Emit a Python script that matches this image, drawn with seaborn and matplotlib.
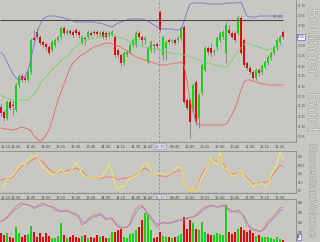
import matplotlib
matplotlib.use("Agg")
import matplotlib.pyplot as plt
import matplotlib.patheffects as pe
from matplotlib import font_manager
from matplotlib.ticker import MultipleLocator, FixedLocator
import numpy as np
import pandas as pd
import seaborn as sns

# ---------------- data ----------------
opens = [37.195, 37.170, 37.140, 37.220, 37.205, 37.180, 37.305, 37.350, 37.340, 37.330,
         37.370, 37.540, 37.570, 37.545, 37.520, 37.510, 37.495, 37.480, 37.505, 37.530,
         37.545, 37.590, 37.565, 37.575, 37.570, 37.580, 37.570, 37.515, 37.540, 37.545,
         37.565, 37.570, 37.570, 37.560, 37.570, 37.565, 37.555, 37.560, 37.545, 37.480,
         37.455, 37.415, 37.455, 37.470, 37.505, 37.505, 37.565, 37.545, 37.530, 37.420,
         37.480, 37.505, 37.510, 37.670, 37.455, 37.490, 37.530, 37.525, 37.530, 37.530,
         37.540, 37.595, 37.230, 37.230, 37.180, 37.320, 37.140, 37.265, 37.380, 37.490,
         37.490, 37.470, 37.495, 37.530, 37.545, 37.465, 37.580, 37.565, 37.565, 37.565,
         37.640, 37.530, 37.415, 37.390, 37.370, 37.340, 37.380, 37.370, 37.395, 37.415,
         37.440, 37.465, 37.490, 37.520, 37.570]
closes = [37.165, 37.140, 37.220, 37.190, 37.200, 37.305, 37.350, 37.330, 37.330, 37.370,
          37.530, 37.530, 37.545, 37.515, 37.505, 37.495, 37.465, 37.520, 37.530, 37.545,
          37.590, 37.565, 37.575, 37.565, 37.555, 37.565, 37.555, 37.545, 37.535, 37.570,
          37.555, 37.565, 37.560, 37.565, 37.545, 37.545, 37.565, 37.570, 37.455, 37.455,
          37.415, 37.465, 37.470, 37.505, 37.530, 37.565, 37.545, 37.530, 37.540, 37.490,
          37.520, 37.500, 37.500, 37.580, 37.545, 37.520, 37.520, 37.525, 37.515, 37.540,
          37.590, 37.220, 37.190, 37.120, 37.305, 37.120, 37.255, 37.405, 37.490, 37.470,
          37.465, 37.475, 37.540, 37.565, 37.570, 37.605, 37.565, 37.545, 37.530, 37.640,
          37.465, 37.405, 37.390, 37.370, 37.340, 37.380, 37.365, 37.400, 37.420, 37.445,
          37.465, 37.495, 37.530, 37.545, 37.545]
highs = [37.210, 37.180, 37.230, 37.235, 37.230, 37.315, 37.360, 37.365, 37.355, 37.380,
         37.540, 37.580, 37.590, 37.555, 37.530, 37.520, 37.505, 37.530, 37.540, 37.555,
         37.600, 37.600, 37.585, 37.585, 37.580, 37.590, 37.580, 37.555, 37.550, 37.580,
         37.575, 37.580, 37.580, 37.575, 37.580, 37.575, 37.575, 37.580, 37.555, 37.490,
         37.465, 37.475, 37.480, 37.515, 37.540, 37.575, 37.575, 37.555, 37.550, 37.500,
         37.530, 37.515, 37.520, 37.680, 37.550, 37.530, 37.540, 37.535, 37.540, 37.550,
         37.600, 37.605, 37.240, 37.240, 37.315, 37.330, 37.265, 37.415, 37.500, 37.500,
         37.515, 37.485, 37.550, 37.575, 37.580, 37.620, 37.605, 37.575, 37.575, 37.655,
         37.655, 37.540, 37.425, 37.400, 37.380, 37.390, 37.390, 37.410, 37.430, 37.455,
         37.475, 37.505, 37.540, 37.555, 37.580]
lows = [37.150, 37.125, 37.130, 37.180, 37.155, 37.170, 37.290, 37.320, 37.320, 37.320,
        37.360, 37.515, 37.535, 37.505, 37.495, 37.480, 37.455, 37.470, 37.495, 37.520,
        37.535, 37.555, 37.555, 37.555, 37.545, 37.555, 37.540, 37.505, 37.505, 37.535,
        37.545, 37.555, 37.550, 37.550, 37.535, 37.535, 37.545, 37.550, 37.445, 37.440,
        37.400, 37.405, 37.445, 37.460, 37.495, 37.495, 37.535, 37.505, 37.510, 37.410,
        37.470, 37.465, 37.490, 37.570, 37.430, 37.430, 37.510, 37.515, 37.505, 37.520,
        37.530, 37.210, 37.180, 37.040, 37.170, 37.105, 37.090, 37.255, 37.370, 37.455,
        37.445, 37.455, 37.480, 37.520, 37.535, 37.415, 37.555, 37.535, 37.520, 37.555,
        37.455, 37.395, 37.380, 37.360, 37.330, 37.330, 37.350, 37.360, 37.385, 37.405,
        37.430, 37.455, 37.480, 37.510, 37.535]

bb_upper = [37.470, 37.450, 37.420, 37.390, 37.360, 37.340, 37.330, 37.335, 37.350, 37.380,
            37.440, 37.505, 37.565, 37.605, 37.635, 37.645, 37.650, 37.650, 37.650, 37.645,
            37.645, 37.640, 37.635, 37.630, 37.625, 37.620, 37.620, 37.620, 37.620, 37.620,
            37.620, 37.620, 37.615, 37.615, 37.610, 37.605, 37.600, 37.595, 37.605, 37.615,
            37.620, 37.625, 37.630, 37.635, 37.635, 37.635, 37.635, 37.635, 37.630, 37.625,
            37.615, 37.605, 37.595, 37.590, 37.585, 37.585, 37.585, 37.585, 37.580, 37.580,
            37.585, 37.620, 37.670, 37.710, 37.715, 37.715, 37.715, 37.715, 37.715, 37.710,
            37.710, 37.710, 37.710, 37.710, 37.710, 37.715, 37.715, 37.715, 37.715, 37.715,
            37.720, 37.685, 37.650, 37.645, 37.645, 37.645, 37.650, 37.650, 37.650, 37.650,
            37.650, 37.650, 37.650, 37.650, 37.650]
bb_mid = [37.255, 37.245, 37.240, 37.235, 37.230, 37.230, 37.230, 37.230, 37.230, 37.230,
          37.245, 37.260, 37.280, 37.310, 37.330, 37.345, 37.365, 37.380, 37.395, 37.410,
          37.425, 37.440, 37.445, 37.465, 37.485, 37.500, 37.510, 37.520, 37.525, 37.530,
          37.535, 37.540, 37.540, 37.545, 37.550, 37.555, 37.555, 37.555, 37.550, 37.545,
          37.540, 37.535, 37.530, 37.520, 37.515, 37.510, 37.505, 37.500, 37.495, 37.490,
          37.490, 37.485, 37.485, 37.480, 37.475, 37.470, 37.465, 37.465, 37.460, 37.460,
          37.455, 37.455, 37.450, 37.445, 37.440, 37.435, 37.430, 37.425, 37.420, 37.415,
          37.410, 37.405, 37.400, 37.400, 37.395, 37.395, 37.410, 37.430, 37.450, 37.470,
          37.490, 37.510, 37.515, 37.510, 37.505, 37.500, 37.495, 37.490, 37.485, 37.480,
          37.485, 37.490, 37.495, 37.500, 37.505]
bb_lower = [37.090, 37.085, 37.085, 37.080, 37.080, 37.085, 37.090, 37.095, 37.090, 37.085,
            37.075, 37.050, 37.035, 37.025, 37.035, 37.055, 37.080, 37.125, 37.180, 37.230,
            37.270, 37.310, 37.350, 37.390, 37.415, 37.430, 37.445, 37.455, 37.465, 37.475,
            37.485, 37.495, 37.500, 37.505, 37.510, 37.515, 37.515, 37.510, 37.505, 37.500,
            37.495, 37.485, 37.475, 37.465, 37.455, 37.445, 37.440, 37.435, 37.430, 37.425,
            37.420, 37.415, 37.410, 37.405, 37.405, 37.405, 37.410, 37.410, 37.415, 37.415,
            37.420, 37.405, 37.330, 37.230, 37.170, 37.120, 37.105, 37.105, 37.105, 37.105,
            37.105, 37.105, 37.105, 37.105, 37.105, 37.110, 37.130, 37.160, 37.190, 37.230,
            37.280, 37.320, 37.330, 37.330, 37.325, 37.320, 37.315, 37.310, 37.310, 37.305,
            37.305, 37.305, 37.305, 37.305, 37.305]

mom_fast = [99.29, 99.29, 99.76, 99.82, 99.94, 100.18, 100.41, 100.65, 100.53, 100.88,
            101.06, 101.00, 101.12, 100.71, 100.41, 100.24, 100.12, 99.94, 100.00, 100.12,
            100.29, 100.12, 100.06, 100.12, 100.35, 100.71, 100.47, 100.00, 99.88, 99.82,
            99.82, 99.82, 99.82, 99.82, 99.94, 100.24, 100.59, 100.12, 99.41, 99.06,
            99.29, 99.24, 99.53, 99.76, 99.82, 99.88, 100.06, 100.41, 100.65, 100.59,
            100.12, 100.00, 99.94, 100.06, 100.00, 99.94, 100.00, 100.12, 100.29, 100.41,
            100.35, 99.59, 99.18, 98.94, 99.18, 98.94, 99.41, 99.82, 100.12, 100.47,
            100.94, 100.76, 100.53, 101.29, 100.41, 100.29, 100.12, 99.88, 99.88, 100.06,
            100.18, 99.88, 99.65, 99.53, 99.24, 99.41, 99.41, 99.47, 99.29, 99.29,
            99.94, 100.29, 100.53, 101.29, 100.94]
mom_slow = [99.65, 99.71, 99.76, 99.76, 99.82, 100.06, 100.29, 100.47, 100.59, 100.65,
            100.76, 100.88, 101.00, 100.82, 100.71, 100.47, 100.29, 100.12, 100.06, 100.06,
            100.12, 100.12, 100.18, 100.24, 100.29, 100.35, 100.29, 100.18, 100.00, 99.82,
            99.82, 99.82, 99.82, 99.76, 99.76, 99.82, 99.82, 99.82, 99.76, 99.65,
            99.71, 99.76, 99.76, 99.82, 99.82, 99.94, 100.06, 100.24, 100.35, 100.24,
            100.12, 100.00, 99.94, 99.88, 99.88, 99.82, 99.94, 100.06, 100.12, 100.18,
            100.24, 99.65, 99.18, 98.88, 99.18, 99.00, 99.53, 100.00, 100.24, 100.47,
            100.94, 100.82, 100.71, 101.12, 100.59, 100.24, 100.06, 100.00, 100.00, 100.06,
            100.12, 99.94, 99.76, 99.59, 99.41, 99.41, 99.47, 99.47, 99.53, 99.53,
            99.76, 100.06, 100.29, 100.53, 100.41]

volume_k = [9, 7, 9, 5, 4, 15, 9, 5, 7, 8,
            16, 10, 5, 9, 5, 9, 6, 4, 4, 6,
            19, 7, 4, 5, 7, 5, 4, 6, 7, 4,
            5, 4, 7, 5, 6, 4, 4, 10, 10, 12,
            13, 5, 4, 8, 9, 12, 15, 22, 29, 27,
            12, 4, 5, 10, 6, 5, 5, 4, 5, 6,
            8, 25, 13, 22, 19, 13, 12, 20, 10, 8,
            7, 7, 9, 8, 7, 37, 10, 8, 10, 13,
            15, 12, 10, 12, 9, 6, 7, 5, 5, 5,
            4, 3, 5, 3, 2]
vol_line_red = [20, 22, 25, 29, 32, 36, 38, 39, 38, 37,
                36, 33, 36, 38, 39, 37, 36, 35, 32, 31,
                30, 31, 32, 30, 28, 27, 24, 17, 19, 23,
                25, 27, 27, 29, 25, 22, 24, 24, 18, 15,
                14, 14, 15, 19, 27, 33, 36, 37, 32, 26,
                23, 19, 15, 18, 20, 19, 19, 20, 21, 22,
                22, 23, 24, 25, 25, 27, 30, 33, 35, 36,
                37, 36, 35, 36, 37, 35, 31, 30, 31, 32,
                30, 24, 17, 14, 12, 12, 10, 12, 15, 21,
                23, 26, 30, 34, 35]
vol_line_blue = [21, 22, 24, 27, 30, 33, 35, 37, 38, 37,
                 36, 35, 35, 36, 37, 37, 36, 35, 34, 32,
                 31, 31, 31, 30, 29, 28, 26, 21, 19, 21,
                 23, 25, 26, 27, 26, 24, 23, 23, 20, 17,
                 15, 14, 15, 17, 23, 29, 33, 35, 33, 29,
                 25, 21, 18, 18, 19, 19, 19, 19, 20, 21,
                 22, 22, 23, 24, 25, 26, 28, 31, 33, 35,
                 36, 36, 35, 35, 36, 35, 33, 31, 30, 30,
                 29, 26, 20, 15, 13, 12, 11, 11, 13, 18,
                 21, 24, 27, 31, 33]

time_ticks = [0, 5, 10, 15, 20, 25, 30, 35, 40, 45, 49,
              53, 58, 63, 68, 73, 78, 83, 88, 93]
time_labels = ["12:15", "12:30", "12:45", "13:00", "13:15", "13:30", "13:45", "14:00",
               "14:15", "14:30", "14:42",
               "09:30", "09:45", "10:00", "10:15", "10:30", "10:45", "11:00", "11:15", "11:30"]
price_ticks = [37.05, 37.10, 37.15, 37.20, 37.25, 37.30, 37.35, 37.40, 37.45, 37.50,
               37.55, 37.60, 37.65, 37.70]
mom_ticks = [99.0, 99.5, 100.0, 100.5, 101.0]
mom_labels = ["99", "99.5", "100", "100.5", "101"]
vol_ticks = [10, 20, 30, 40]
resistance_level = 37.63
session_break = 52.5
panel_titles = ["Bollinger", "Band", "Momentum", "Volume"]

# ---------------- style ----------------
BG = "#c9c7c1"
UP = "#14d214"
DOWN = "#dc0a0a"
WICK = "#707070"
SPINE = "#8a8884"
TXT = "#4a4a4a"

sns.set_theme(style="white")
plt.rcParams["font.family"] = ["DejaVu Sans"]

try:
    font_manager.findfont("Liberation Sans Narrow", fallback_to_default=False)
    NARROW = ["Liberation Sans Narrow", "DejaVu Sans"]
except Exception:
    NARROW = ["DejaVu Sans"]

df = pd.DataFrame({
    "idx": np.arange(len(opens)), "open": opens, "close": closes,
    "high": highs, "low": lows, "upper": bb_upper, "mid": bb_mid, "lower": bb_lower,
    "mom_fast": mom_fast, "mom_slow": mom_slow, "vol": volume_k,
    "vred": vol_line_red, "vblue": vol_line_blue,
})
df["up"] = df["close"] >= df["open"]
df["body_lo"] = df[["open", "close"]].min(axis=1)
df["body_h"] = (df["close"] - df["open"]).abs().clip(lower=0.004)
colors = [UP if u else DOWN for u in df["up"]]

W, H = 320, 242
fig = plt.figure(figsize=(W / 100, H / 100), dpi=100)
fig.patch.set_facecolor(BG)
ax_p = fig.add_axes([0, 100 / H, 296 / W, 142 / H])
ax_m = fig.add_axes([0, 49 / H, 296 / W, 42 / H])
ax_v = fig.add_axes([0, 0, 296 / W, 43 / H])

XL = (-0.33, 98.33)
for ax in (ax_p, ax_m, ax_v):
    ax.set_facecolor(BG)
    ax.set_xlim(*XL)
    for s in ax.spines.values():
        s.set_color(SPINE)
        s.set_linewidth(0.6)
    ax.spines["top"].set_visible(False)
    ax.spines["left"].set_visible(False)
    ax.yaxis.tick_right()
    ax.tick_params(axis="y", which="major", labelsize=2.0, colors=SPINE, labelcolor=TXT,
                   length=1.0, width=0.4, pad=0.4, right=True, left=False)
    ax.xaxis.set_major_locator(FixedLocator(time_ticks))
    ax.xaxis.set_minor_locator(MultipleLocator(1))
    ax.tick_params(axis="x", which="major", direction="inout", length=3, width=0.4,
                   colors=SPINE, labelcolor=TXT, labelsize=2.6, pad=0.5)
    ax.tick_params(axis="x", which="minor", direction="inout", length=1.5, width=0.3,
                   colors=SPINE, bottom=True)
    ax.axvline(session_break, color="#8c8ca8", lw=0.6, dashes=(3, 2), zorder=1)

# ---- price panel ----
ax_p.set_ylim(37.02, 37.73)
ax_p.set_yticks(price_ticks)
ax_p.set_yticklabels([f"{v:.2f}" for v in price_ticks])
ax_p.vlines(df["idx"], df["low"], df["high"], color=WICK, lw=0.5, zorder=2)
ax_p.bar(df["idx"], df["body_h"], bottom=df["body_lo"], width=0.72,
         color=colors, linewidth=0, zorder=3)
sns.lineplot(data=df, x="idx", y="upper", ax=ax_p, color="#7474dc", lw=0.6, zorder=4)
sns.lineplot(data=df, x="idx", y="mid", ax=ax_p, color="#6fd36f", lw=0.6, zorder=4)
sns.lineplot(data=df, x="idx", y="lower", ax=ax_p, color="#e06a6a", lw=0.6, zorder=4)
ax_p.hlines(resistance_level, XL[0], df["idx"].iloc[-1], color="#4a4a4a", lw=0.8, zorder=5)
ax_p.text(df["idx"].iloc[-1], resistance_level + 0.004, f"{resistance_level:.2f}",
          fontsize=2.6, color=TXT, ha="right", va="bottom")
ax_p.text(1.004, closes[-1], f"{closes[-1]:.2f}", transform=ax_p.get_yaxis_transform(),
          fontsize=2.0, color="#202060", va="center", ha="left", clip_on=False,
          bbox=dict(boxstyle="square,pad=0.2", fc="#f4f4ff", ec="#4848c8", lw=0.4))
ax_p.set_xticklabels(time_labels)

# ---- momentum panel ----
ax_m.set_ylim(98.88, 101.35)
ax_m.set_yticks(mom_ticks)
ax_m.set_yticklabels(mom_labels)
sns.lineplot(data=df, x="idx", y="mom_slow", ax=ax_m, color="#f07c7c", lw=0.7, zorder=3)
sns.lineplot(data=df, x="idx", y="mom_fast", ax=ax_m, color="#eeee58", lw=0.7, zorder=4)
ax_m.spines["top"].set_visible(True)
ax_m.set_xticklabels(time_labels)

# ---- volume panel ----
ax_v.set_ylim(0, 43)
ax_v.set_yticks(vol_ticks)
ax_v.set_yticklabels([f"{v}K" for v in vol_ticks])
ax_v.bar(df["idx"], df["vol"], width=0.72, color=colors, linewidth=0, zorder=3)
sns.lineplot(data=df, x="idx", y="vblue", ax=ax_v, color="#8a8ae0", lw=0.55, zorder=4)
sns.lineplot(data=df, x="idx", y="vred", ax=ax_v, color="#e07070", lw=0.55, zorder=4)
ax_v.spines["top"].set_visible(True)
ax_v.spines["bottom"].set_visible(False)
ax_v.tick_params(axis="x", which="both", labelbottom=False, bottom=False)
ax_v.text(1.004, 5, f"{volume_k[-1]}K", transform=ax_v.get_yaxis_transform(),
          fontsize=2.0, color="#202060", va="center", ha="left", clip_on=False,
          bbox=dict(boxstyle="square,pad=0.2", fc="#f4f4ff", ec="#4848c8", lw=0.4))

for ax in (ax_p, ax_m, ax_v):
    ax.set_xlabel("")
    ax.set_ylabel("")
for ax in (ax_p, ax_m):
    labs = ax.get_xticklabels()
    labs[0].set_horizontalalignment("left")
    labs[11].set_bbox(dict(boxstyle="square,pad=0.15", fc="#eef0fa", ec="#6a6ac8", lw=0.3))

# ---- panel titles (vertical) ----
fx = pe.withStroke(linewidth=0.8, foreground="#9f9d98")
tcol = "#dcdad5"
fig.text(313 / W, 1 - 42 / H, panel_titles[0], rotation=270, ha="center", va="center",
         fontsize=11, color=tcol, path_effects=[fx])
fig.text(313 / W, 1 - 112 / H, panel_titles[1], rotation=270, ha="center", va="center",
         fontsize=11, color=tcol, path_effects=[fx])
fig.text(312.5 / W, 1 - 172 / H, panel_titles[2], rotation=270, ha="center", va="center",
         fontsize=7.2, family=NARROW, color=tcol, path_effects=[fx])
fig.text(312.5 / W, 1 - 219 / H, panel_titles[3], rotation=270, ha="center", va="center",
         fontsize=7.2, family=NARROW, color=tcol, path_effects=[fx])

fig.savefig("out.png", dpi=100, facecolor=BG)
